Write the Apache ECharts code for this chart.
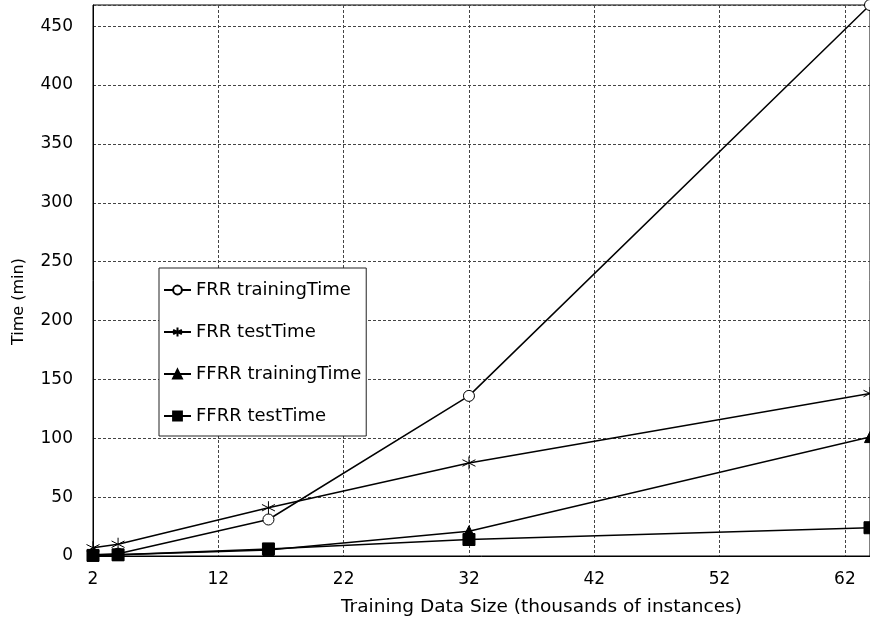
<!DOCTYPE html>
<html>
<head>
<meta charset="utf-8">
<script src="https://cdn.jsdelivr.net/npm/echarts@6/dist/echarts.min.js"></script>
<style>
  html, body { margin: 0; padding: 0; background: #fff; }
  #chart { width: 870px; height: 628px; }
</style>
</head>
<body>
<div id="chart"></div>
<script>
// Training data size (thousands of instances)
const sizes = [2, 4, 16, 32, 64];
// Time in minutes for each method and phase
const frrTraining = [1, 2, 31, 136, 468];
const frrTest = [7, 10, 41, 79, 138];
const ffrrTraining = [0.5, 1, 5, 21, 101];
const ffrrTest = [0.5, 1, 6, 14, 24];

const seriesNames = ['FRR trainingTime', 'FRR testTime', 'FFRR trainingTime', 'FFRR testTime'];

const FONT = 'DejaVu Sans';
const asterisk = 'path://M5 0 L5 10 M0.7 2.5 L9.3 7.5 M0.7 7.5 L9.3 2.5';

function pairs(ys) { return sizes.map((x, i) => [x, ys[i]]); }

function lineSeries(name, ys, symbol, size, fill) {
  return {
    name: name,
    type: 'line',
    data: pairs(ys),
    clip: false,
    symbol: symbol,
    symbolSize: size,
    showAllSymbol: true,
    lineStyle: { color: '#000', width: 1.5 },
    itemStyle: { color: fill, borderColor: '#000', borderWidth: 1 },
    emphasis: { disabled: true },
    animation: false
  };
}

const gridDash = { type: [3, 2], color: '#444', width: 1 };

const chart = echarts.init(document.getElementById('chart'), null, { renderer: 'canvas' });
chart.setOption({
  backgroundColor: '#fff',
  textStyle: { fontFamily: FONT, color: '#000' },
  grid: {
    left: 93, right: -4, top: 5, bottom: 72,
    show: true, borderColor: '#000', borderWidth: 1, backgroundColor: 'transparent'
  },
  legend: {
    orient: 'vertical',
    left: 159, top: 268,
    data: seriesNames,
    backgroundColor: '#fff',
    borderColor: '#222', borderWidth: 1, borderRadius: 0,
    padding: [13, 5, 11, 4],
    itemWidth: 27, itemHeight: 11, itemGap: 24,
    textStyle: { fontFamily: FONT, fontSize: 18, color: '#000' },
    selectedMode: false
  },
  xAxis: {
    type: 'value',
    min: 2, max: 64, interval: 10,
    name: 'Training Data Size (thousands of instances)',
    nameLocation: 'middle', nameGap: 42,
    nameTextStyle: { fontFamily: FONT, fontSize: 18.5, color: '#000', padding: [0, 0, 0, 120] },
    axisLine: { show: true, lineStyle: { color: '#000', width: 1 } },
    axisTick: { show: false },
    axisLabel: { fontFamily: FONT, fontSize: 17, color: '#000', margin: 15, showMaxLabel: false },
    splitLine: { show: true, lineStyle: gridDash }
  },
  yAxis: {
    type: 'value',
    min: 0, max: 468, interval: 50,
    name: 'Time (min)',
    nameLocation: 'middle', nameGap: 66,
    nameTextStyle: { fontFamily: FONT, fontSize: 16, color: '#000', padding: [0, 42, 0, 0] },
    axisLine: { show: true, lineStyle: { color: '#000', width: 1 } },
    axisTick: { show: false },
    axisLabel: {
      fontFamily: FONT, fontSize: 17, color: '#000', margin: 20, showMaxLabel: false,
      formatter: v => (v % 50 === 0 ? String(v) : '')
    },
    splitLine: { show: true, lineStyle: gridDash }
  },
  series: [
    lineSeries(seriesNames[0], frrTraining, 'circle', 11, '#fff'),
    lineSeries(seriesNames[1], frrTest, asterisk, 13, 'rgba(0,0,0,0)'),
    lineSeries(seriesNames[2], ffrrTraining, 'triangle', 11, '#000'),
    lineSeries(seriesNames[3], ffrrTest, 'rect', 12, '#000')
  ]
});
</script>
</body>
</html>
